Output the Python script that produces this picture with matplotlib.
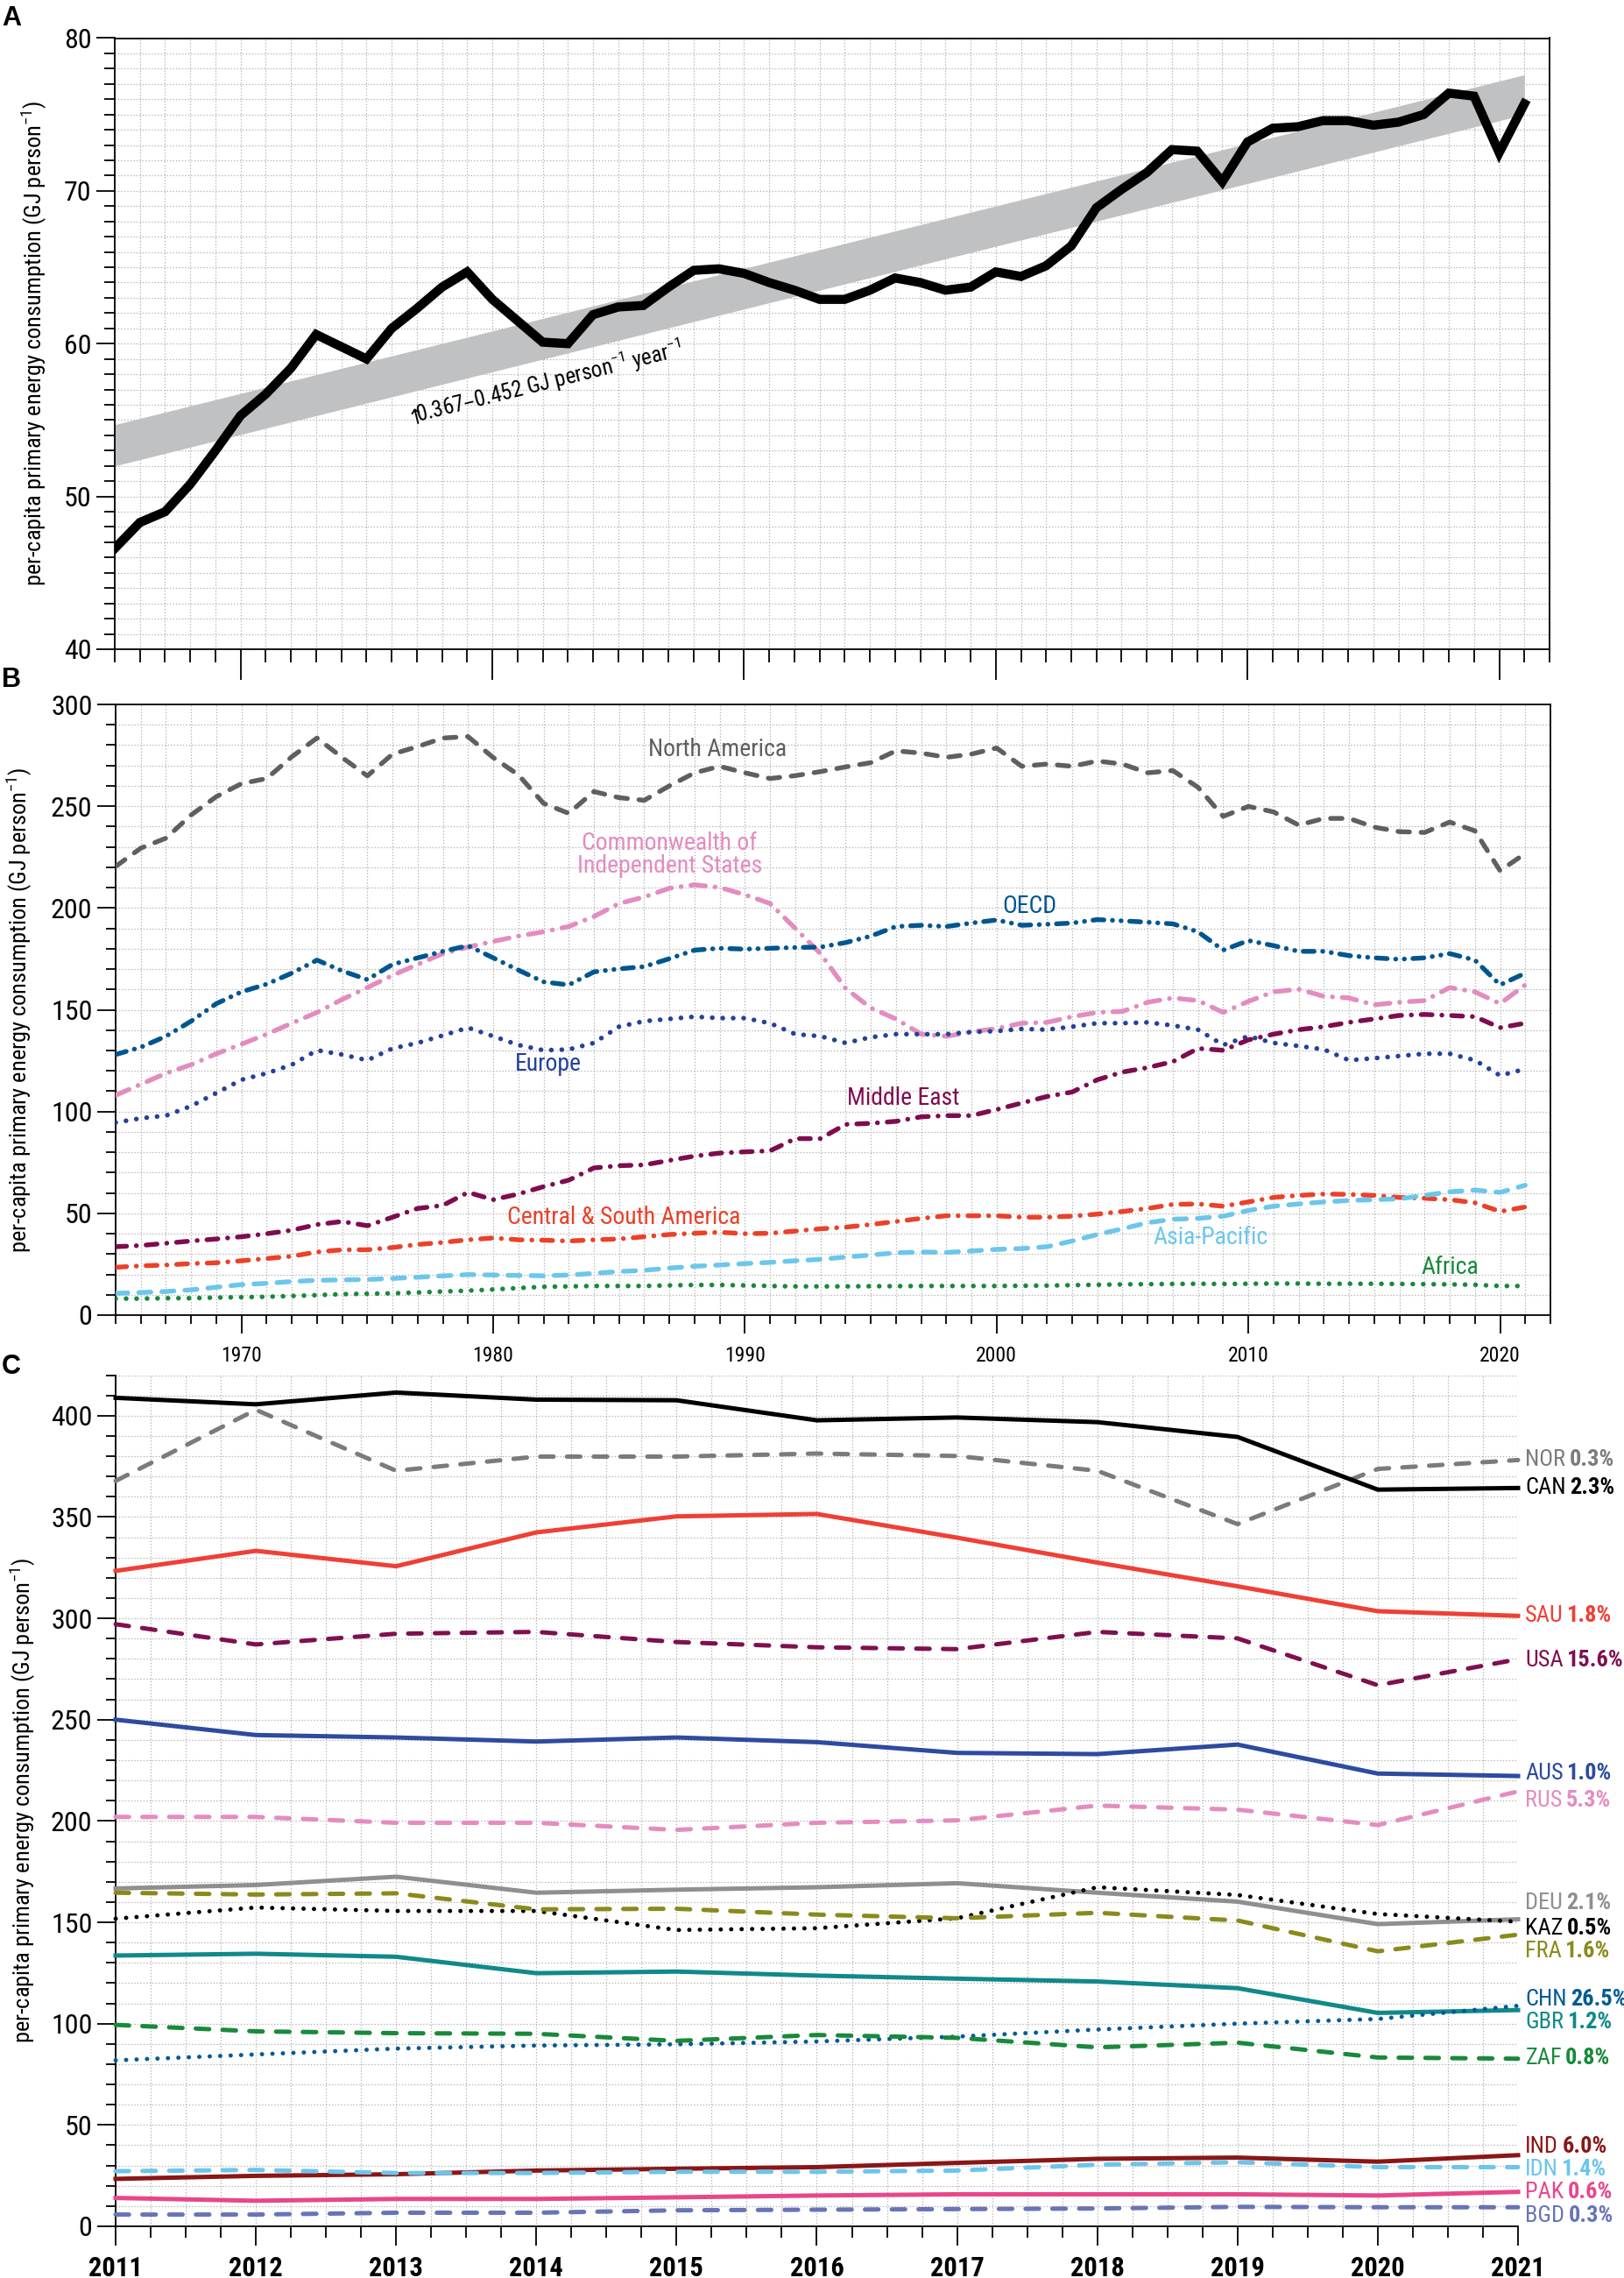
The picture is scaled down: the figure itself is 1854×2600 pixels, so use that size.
import matplotlib
matplotlib.use("Agg")
import numpy as np
import matplotlib.pyplot as plt
import matplotlib.transforms as mtransforms
from matplotlib import font_manager as fm
from matplotlib.ticker import MultipleLocator

# ---------------- data ----------------
years_a = list(range(1965, 2022))
world_pc = [46.6, 48.3, 49.0, 50.8, 53.0, 55.3, 56.7, 58.4, 60.6, 59.8,
            59.0, 61.0, 62.3, 63.7, 64.7, 62.9, 61.5, 60.1, 60.0, 61.9,
            62.4, 62.5, 63.7, 64.8, 64.9, 64.6, 64.0, 63.5, 62.9, 62.9,
            63.5, 64.3, 64.0, 63.5, 63.7, 64.7, 64.4, 65.1, 66.4, 68.9,
            70.1, 71.2, 72.7, 72.6, 70.6, 73.2, 74.1, 74.2, 74.6, 74.6,
            74.3, 74.5, 75.0, 76.4, 76.2, 72.5, 75.7]
band_years = [1965, 2021]
band_low = [52.0, 75.0]
band_high = [54.7, 77.6]
trend_arrow = "\u2191"
trend_text = "0.367\u20130.452 GJ person$^{-1}$ year$^{-1}$"

north_america = [220.4, 229.4, 234.3, 245.7, 254.7, 261.1, 263.6, 274.3, 283.5, 273.9,
                 264.9, 275.6, 279.3, 283.5, 284.2, 273.9, 265.4, 251.4, 246.5, 257.2,
                 254.2, 252.9, 260.0, 266.4, 269.6, 266.4, 263.6, 265.0, 267.0, 269.3,
                 271.4, 277.2, 276.1, 274.0, 275.6, 278.6, 269.6, 270.7, 269.6, 272.2,
                 270.7, 266.4, 267.5, 259.3, 245.0, 249.9, 247.2, 240.7, 244.0, 244.0,
                 239.7, 237.5, 237.1, 242.2, 237.9, 218.3, 226.8]
oecd = [128.0, 131.6, 137.0, 144.4, 153.0, 158.8, 162.6, 168.0, 174.4, 169.1,
        164.8, 172.3, 175.5, 178.7, 181.5, 175.5, 169.5, 163.7, 162.2, 168.6,
        170.1, 171.2, 175.1, 179.3, 180.2, 179.8, 180.2, 180.6, 180.8, 183.0,
        186.2, 190.9, 191.5, 190.9, 192.6, 194.1, 191.5, 192.0, 192.6, 194.3,
        193.7, 193.0, 192.2, 188.3, 179.3, 184.0, 181.5, 178.7, 178.7, 176.6,
        175.5, 174.8, 175.5, 177.6, 174.4, 162.2, 168.0]
cis = [108.0, 113.4, 118.8, 123.0, 128.4, 133.1, 138.0, 143.4, 148.7, 155.1,
       160.9, 166.9, 172.3, 177.6, 180.8, 183.6, 186.2, 188.3, 190.9, 195.8,
       202.2, 205.4, 209.7, 211.4, 210.1, 206.5, 202.2, 190.0, 177.6, 160.5,
       150.9, 145.5, 138.0, 137.0, 139.1, 140.8, 143.4, 143.8, 146.6, 148.7,
       149.2, 153.7, 155.8, 154.5, 148.7, 154.1, 158.8, 160.1, 156.6, 155.8,
       152.4, 153.7, 154.5, 160.9, 158.8, 153.0, 162.2]
europe = [94.6, 96.7, 98.0, 102.7, 109.1, 115.6, 118.8, 123.0, 130.1, 128.0,
          125.2, 131.0, 133.7, 137.4, 141.2, 137.0, 132.7, 130.1, 130.5, 133.7,
          141.7, 144.4, 145.5, 146.6, 145.9, 145.9, 143.4, 138.0, 137.0, 133.7,
          136.5, 138.0, 138.0, 138.0, 139.1, 139.5, 140.6, 140.2, 141.7, 143.4,
          143.4, 143.8, 142.3, 140.2, 132.7, 137.0, 133.7, 132.2, 130.5, 125.2,
          126.2, 127.3, 128.4, 128.4, 125.2, 117.7, 120.9]
middle_east = [33.6, 34.2, 35.3, 36.4, 37.4, 38.5, 40.0, 41.7, 44.5, 46.0,
               43.9, 48.1, 52.4, 53.9, 60.3, 56.7, 59.5, 63.1, 66.3, 72.3,
               73.4, 73.8, 76.0, 78.1, 79.6, 80.2, 80.7, 86.7, 86.7, 93.7,
               94.2, 95.2, 97.4, 98.0, 98.0, 101.0, 104.2, 107.4, 109.6, 115.6,
               119.4, 121.6, 124.5, 131.0, 130.1, 135.2, 138.0, 140.2, 141.7, 143.8,
               145.5, 147.2, 147.7, 147.2, 146.6, 141.2, 143.4]
cs_america = [23.5, 24.2, 24.6, 25.3, 25.7, 26.7, 27.8, 28.9, 31.0, 32.1,
              32.1, 33.2, 34.7, 35.7, 37.0, 37.9, 37.0, 36.8, 36.4, 37.0,
              37.4, 38.5, 39.6, 40.2, 40.7, 40.0, 40.2, 41.3, 42.4, 43.2,
              44.5, 46.0, 47.5, 48.8, 48.8, 48.8, 48.1, 48.1, 48.6, 49.6,
              50.9, 52.4, 54.4, 54.6, 53.5, 55.6, 57.8, 58.8, 59.5, 59.3,
              58.8, 57.8, 57.4, 56.7, 55.2, 50.9, 53.1]
asia_pacific = [10.7, 11.1, 11.6, 12.4, 13.7, 15.0, 15.6, 16.5, 17.1, 17.3,
                17.5, 18.0, 18.6, 19.3, 19.9, 19.7, 19.5, 19.3, 19.7, 20.5,
                21.4, 22.0, 23.1, 24.0, 24.6, 25.3, 25.9, 26.7, 27.4, 28.5,
                29.5, 30.6, 31.0, 30.8, 31.5, 32.3, 32.7, 33.6, 36.4, 39.6,
                42.4, 45.4, 47.1, 47.5, 48.6, 51.4, 53.5, 54.6, 55.6, 56.3,
                56.7, 57.1, 58.8, 60.6, 61.4, 60.3, 63.8]
africa = [8.1, 8.1, 8.3, 8.3, 8.6, 8.8, 9.0, 9.4, 9.8, 10.3,
          10.5, 10.7, 11.1, 11.6, 12.0, 12.6, 13.3, 13.9, 14.1, 14.3,
          14.3, 14.3, 14.6, 14.8, 14.8, 14.6, 14.3, 14.1, 14.1, 14.1,
          14.2, 14.2, 14.3, 14.3, 14.3, 14.3, 14.4, 14.5, 14.7, 14.9,
          15.1, 15.2, 15.3, 15.4, 15.3, 15.4, 15.5, 15.5, 15.4, 15.4,
          15.4, 15.3, 15.2, 15.1, 14.9, 14.3, 14.3]

years_c = list(range(2011, 2022))
countries = ["NOR", "CAN", "SAU", "USA", "AUS", "RUS", "DEU", "KAZ",
             "FRA", "GBR", "CHN", "ZAF", "IND", "IDN", "PAK", "BGD"]
pop_share = ["0.3%", "2.3%", "1.8%", "15.6%", "1.0%", "5.3%", "2.1%", "0.5%",
             "1.6%", "1.2%", "26.5%", "0.8%", "6.0%", "1.4%", "0.6%", "0.3%"]
nor = [367.8, 402.9, 372.8, 379.8, 379.8, 381.3, 380.1, 372.8, 346.5, 373.7, 378.1]
can = [408.8, 405.6, 411.4, 407.9, 407.6, 397.7, 399.1, 396.8, 389.5, 363.5, 364.3]
sau = [323.4, 333.3, 325.7, 342.4, 350.3, 351.5, 339.8, 327.5, 315.8, 303.5, 301.2]
usa = [297.1, 287.1, 292.4, 293.3, 288.3, 285.7, 284.8, 293.3, 290.1, 267.0, 279.8]
aus = [250.0, 242.4, 241.2, 239.2, 241.2, 238.9, 233.6, 233.0, 237.7, 223.4, 222.2]
rus = [202.0, 202.0, 199.1, 199.1, 195.6, 199.1, 200.3, 207.6, 205.6, 198.0, 214.6]
deu = [166.7, 168.4, 172.5, 164.6, 166.1, 167.3, 169.3, 164.6, 160.2, 149.1, 151.5]
kaz = [151.8, 157.3, 155.6, 155.6, 146.2, 147.1, 152.0, 167.3, 163.5, 154.1, 150.3]
fra = [164.6, 163.7, 164.3, 156.4, 156.7, 153.8, 152.0, 154.7, 150.9, 135.7, 143.9]
gbr = [133.6, 134.5, 133.0, 124.9, 125.7, 123.7, 122.2, 120.8, 117.5, 105.3, 106.7]
chn = [81.9, 84.8, 87.7, 89.2, 89.8, 91.2, 93.6, 97.1, 100.0, 102.3, 108.8]
zaf = [99.4, 96.2, 95.3, 95.0, 91.5, 94.4, 93.0, 88.3, 90.6, 83.3, 82.7]
ind = [23.4, 24.9, 25.7, 27.5, 28.4, 29.2, 31.3, 33.3, 33.9, 31.9, 35.1]
idn = [27.2, 27.8, 26.3, 26.3, 26.9, 26.9, 27.5, 30.4, 31.6, 29.2, 29.2]
pak = [14.0, 12.6, 13.5, 13.5, 14.3, 15.2, 15.8, 15.8, 15.8, 15.2, 17.0]
bgd = [5.8, 5.8, 6.7, 6.7, 7.9, 8.2, 8.5, 8.8, 9.6, 9.4, 9.4]

# ---------------- fonts ----------------
names = {f.name for f in fm.fontManager.ttflist}
cond = None
stretch = "normal"
for cand in ["Liberation Sans Narrow", "Roboto Condensed", "Open Sans Condensed",
             "Noto Sans Condensed", "DejaVu Sans Condensed"]:
    if cand in names:
        cond = cand
        break
if cond is None:
    if any(f.name == "DejaVu Sans" and str(f.stretch) == "condensed" for f in fm.fontManager.ttflist):
        cond, stretch = "DejaVu Sans", "condensed"
    else:
        cond = "Liberation Sans"

plt.rcParams["font.family"] = [cond, "DejaVu Sans"]
plt.rcParams["font.stretch"] = stretch
plt.rcParams["mathtext.default"] = "regular"
plt.rcParams["lines.scale_dashes"] = False

YLABEL = "per-capita primary energy consumption (GJ person$^{-1}$)"
GRID = dict(color="#b4b4b4", linestyle=(0, (1, 1.5)), linewidth=0.9)

W, H = 1854, 2600
fig = plt.figure(figsize=(W / 100, H / 100), dpi=100)


def box(left, top, right, bottom):
    return [left / W, 1 - bottom / H, (right - left) / W, (bottom - top) / H]


def style_ticks(ax, ymaj_len, ymin_len, xmaj_len, xmin_len):
    ax.tick_params(axis="y", which="major", length=ymaj_len, width=1.3, labelsize=23, pad=4)
    ax.tick_params(axis="y", which="minor", length=ymin_len, width=1.3)
    ax.tick_params(axis="x", which="major", length=xmaj_len, width=1.3)
    ax.tick_params(axis="x", which="minor", length=xmin_len, width=1.3)
    for s in ax.spines.values():
        s.set_linewidth(1.3)


# ---------------- panel A ----------------
axA = fig.add_axes(box(131, 43.5, 1769, 741))
axA.set_xlim(1965, 2022)
axA.set_ylim(40, 80)
axA.xaxis.set_major_locator(MultipleLocator(10))
axA.xaxis.set_minor_locator(MultipleLocator(1))
axA.yaxis.set_major_locator(MultipleLocator(10))
axA.yaxis.set_minor_locator(MultipleLocator(1))
axA.set_xticklabels([])
axA.grid(True, which="both", **GRID)
axA.set_axisbelow(True)
axA.fill_between(band_years, band_low, band_high, color="#c0c1c2", lw=0, zorder=2)
axA.plot(years_a, world_pc, color="black", lw=7.5, solid_joinstyle="miter", zorder=3)

# trend label: arrow glyph from DejaVu, rest in the condensed font
ang = 14
axA.text(1976.7, 54.7, trend_arrow, rotation=ang, rotation_mode="anchor",
         ha="left", va="baseline", fontsize=17, family="DejaVu Sans", zorder=4)
shift = mtransforms.offset_copy(axA.transData, fig=fig,
                                x=7.5 * np.cos(np.radians(ang)),
                                y=7.5 * np.sin(np.radians(ang)), units="points")
axA.text(1976.7, 54.7, trend_text, transform=shift, rotation=ang,
         rotation_mode="anchor", ha="left", va="baseline", fontsize=18, zorder=4)
style_ticks(axA, 15, 9, 25, 11)
axA.set_ylabel(YLABEL, fontsize=19)
axA.yaxis.set_label_coords(-0.046, 0.5)

# ---------------- panel B ----------------
axB = fig.add_axes(box(132, 804, 1770, 1501))
axB.set_xlim(1965, 2022)
axB.set_ylim(0, 300)
axB.xaxis.set_major_locator(MultipleLocator(10))
axB.xaxis.set_minor_locator(MultipleLocator(1))
axB.yaxis.set_major_locator(MultipleLocator(50))
axB.yaxis.set_minor_locator(MultipleLocator(10))
axB.grid(True, which="both", **GRID)
axB.set_axisbelow(True)

regions = [
    (north_america, "#5f5f5f", (0, (9.5, 9.5))),
    (cis, "#e38cc0", (0, (12, 8, 0.1, 8))),
    (oecd, "#00568e", (0, (9, 7, 0.1, 7, 0.1, 7))),
    (europe, "#24419a", (0, (0.1, 8.5))),
    (middle_east, "#7e0c50", (0, (9, 8, 0.1, 8))),
    (cs_america, "#ea4129", (0, (9, 8, 0.1, 8))),
    (asia_pacific, "#6cc6eb", (0, (10, 9))),
    (africa, "#18893b", (0, (0.1, 8.5))),
]
for vals, col, ls in regions:
    axB.plot(years_a, vals, color=col, lw=3.9, linestyle=ls,
             dash_capstyle="round", dash_joinstyle="round", zorder=3)

region_labels = [
    ("North America", 1988.9, 278, "#5f5f5f"),
    ("Commonwealth of\nIndependent States", 1987.0, 226, "#e38cc0"),
    ("OECD", 2001.3, 201, "#00568e"),
    ("Europe", 1982.2, 123.5, "#24419a"),
    ("Middle East", 1996.3, 106.4, "#7e0c50"),
    ("Central & South America", 1985.2, 48.1, "#ea4129"),
    ("Asia-Pacific", 2008.5, 37.9, "#6cc6eb"),
    ("Africa", 2018.0, 23.5, "#18893b"),
]
for txt, x, y, col in region_labels:
    axB.text(x, y, txt, color=col, fontsize=20, ha="center", va="center",
             linespacing=0.95, zorder=4)

style_ticks(axB, 15, 8, 15, 7.5)
axB.tick_params(axis="x", which="major", labelsize=17, pad=10)
axB.set_ylabel(YLABEL, fontsize=19)
axB.yaxis.set_label_coords(-0.057, 0.5)

# ---------------- panel C ----------------
axC = fig.add_axes(box(132, 1569.5, 1733, 2541))
axC.set_xlim(2011, 2021)
axC.set_ylim(0, 420)
axC.xaxis.set_major_locator(MultipleLocator(1))
axC.xaxis.set_minor_locator(MultipleLocator(0.25))
axC.yaxis.set_major_locator(MultipleLocator(50))
axC.yaxis.set_minor_locator(MultipleLocator(10))
axC.grid(True, which="both", **GRID)
axC.set_axisbelow(True)
axC.spines["top"].set_visible(False)
axC.spines["right"].set_visible(False)

country_series = [nor, can, sau, usa, aus, rus, deu, kaz, fra, gbr, chn, zaf, ind, idn, pak, bgd]
country_colors = ["#7b7b7b", "#000000", "#ee4036", "#7e1051", "#2d4b9f", "#e48cc0",
                  "#8f8f8f", "#000000", "#8a8a1c", "#10898b", "#005a96", "#19893b",
                  "#8a1616", "#6cc5ea", "#e8478a", "#6874b6"]
SOLID, DASH, DOT = "-", (0, (11, 11)), (0, (0.1, 8.5))
country_styles = [DASH, SOLID, SOLID, DASH, SOLID, DASH, SOLID, DOT,
                  DASH, SOLID, DOT, DASH, SOLID, DASH, SOLID, DASH]
label_y = [378.4, 364.3, 301.2, 279.2, 223.4, 209.9, 159.4, 147.0,
           135.7, 100.6, 112.0, 83.0, 39.5, 28.0, 16.7, 5.0]

for vals, col, ls, code, pct, ly in zip(country_series, country_colors, country_styles,
                                        countries, pop_share, label_y):
    lw = 3.5 if ls is DOT else 3.6
    axC.plot(years_c, vals, color=col, lw=lw, linestyle=ls, dash_capstyle="round",
             zorder=3, clip_on=False)
    t = axC.annotate(code, xy=(2021, ly), xytext=(6, 0), textcoords="offset points",
                     color=col, fontsize=19, ha="left", va="center",
                     annotation_clip=False)
    axC.annotate(pct, xy=(1, 0.5), xycoords=t, xytext=(3, 0), textcoords="offset points",
                 color=col, fontsize=19, fontweight="bold", ha="left", va="center",
                 annotation_clip=False)

style_ticks(axC, 15, 8, 16, 9.5)
axC.tick_params(axis="x", which="major", labelsize=22, pad=8)
for lab in axC.get_xticklabels():
    lab.set_fontweight("bold")
axC.set_ylabel(YLABEL, fontsize=19)
axC.yaxis.set_label_coords(-0.0555, 0.5)

# panel letters
for letter, top in [("A", 6), ("B", 761), ("C", 1545)]:
    fig.text(0.001, 1 - top / H, letter, fontsize=22, fontweight="bold",
             family=["Liberation Sans", "DejaVu Sans"], va="top", ha="left")

fig.savefig("out.png", dpi=100)
